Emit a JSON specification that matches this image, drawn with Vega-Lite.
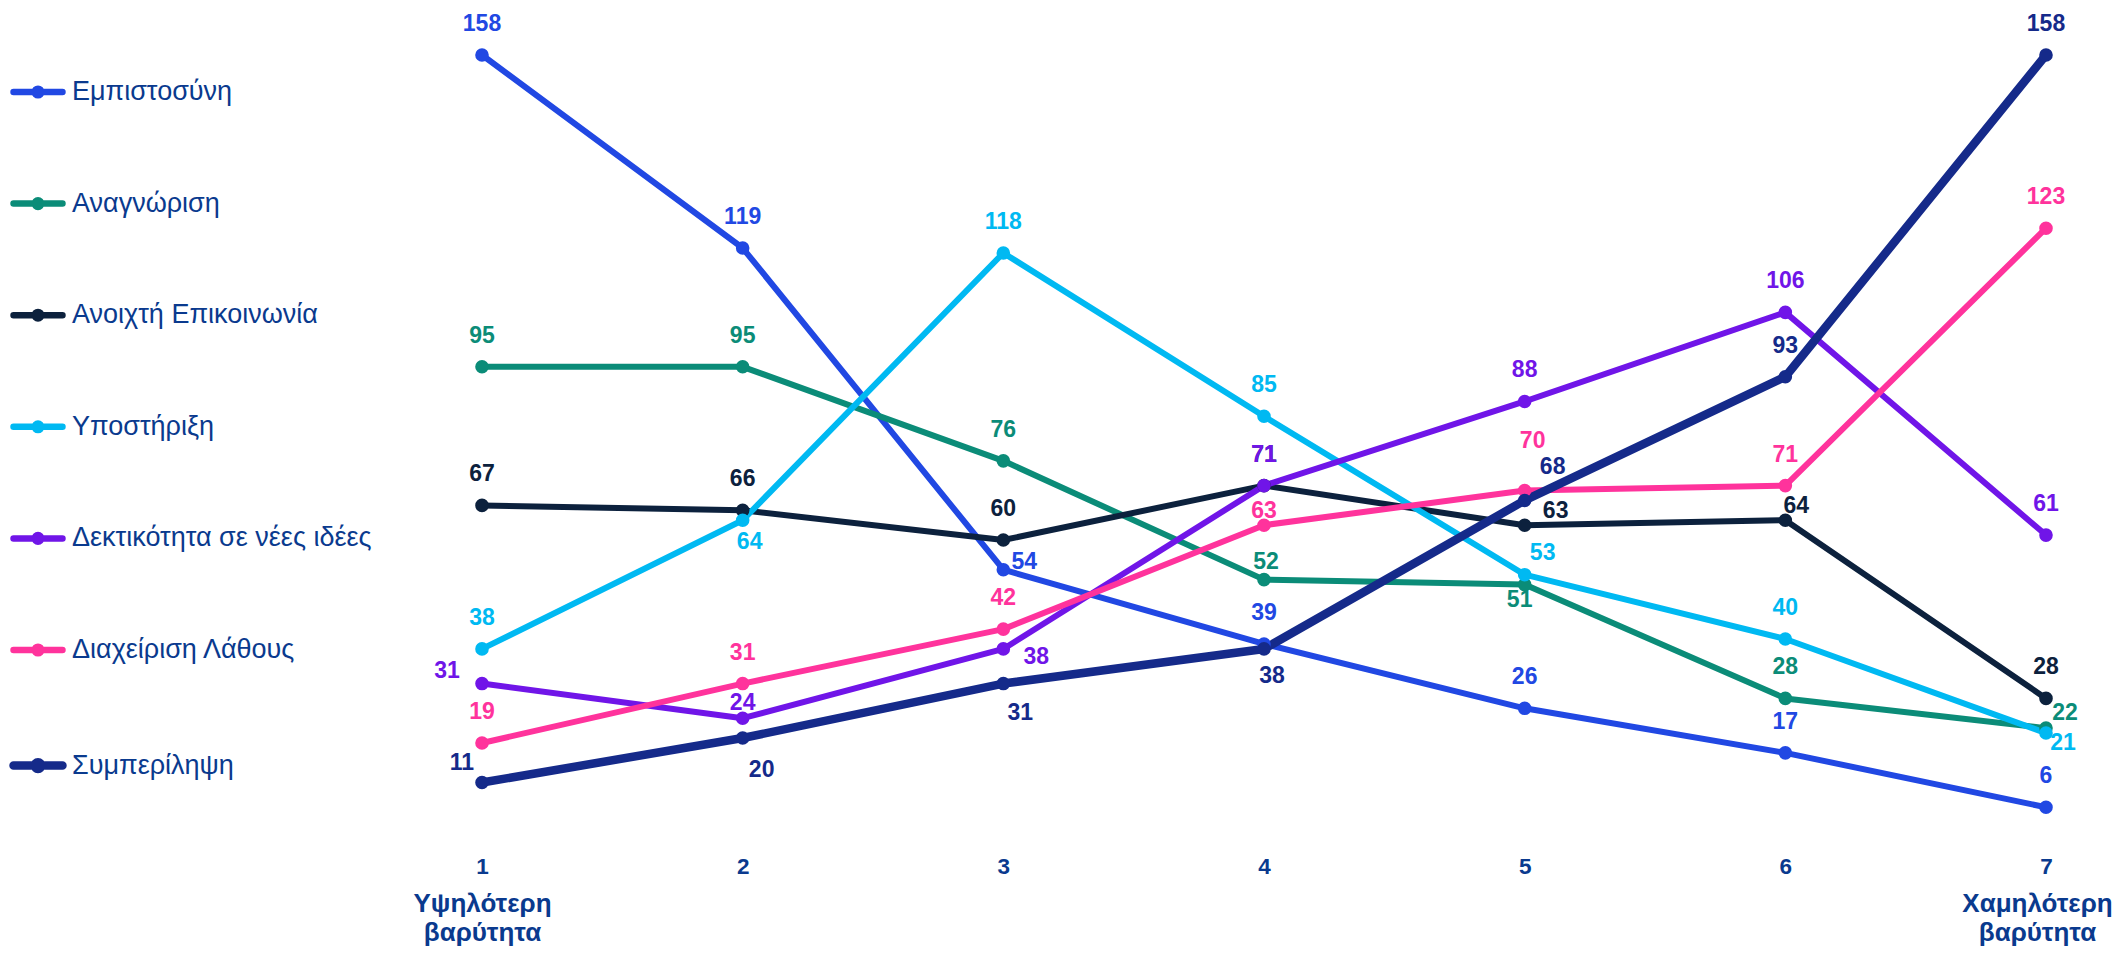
{
  "$schema": "https://vega.github.io/schema/vega-lite/v6.json",
  "width": 1564,
  "height": 782,
  "autosize": {"type": "none"},
  "padding": {"left": 482, "top": 55, "right": 70, "bottom": 118},
  "background": "white",
  "config": {"view": {"stroke": null}, "font": "Liberation Sans"},
  "data": {
    "values": [
      {"series": "Εμπιστοσύνη", "rank": 1, "value": 158},
      {"series": "Εμπιστοσύνη", "rank": 2, "value": 119},
      {"series": "Εμπιστοσύνη", "rank": 3, "value": 54},
      {"series": "Εμπιστοσύνη", "rank": 4, "value": 39},
      {"series": "Εμπιστοσύνη", "rank": 5, "value": 26},
      {"series": "Εμπιστοσύνη", "rank": 6, "value": 17},
      {"series": "Εμπιστοσύνη", "rank": 7, "value": 6},
      {"series": "Αναγνώριση", "rank": 1, "value": 95},
      {"series": "Αναγνώριση", "rank": 2, "value": 95},
      {"series": "Αναγνώριση", "rank": 3, "value": 76},
      {"series": "Αναγνώριση", "rank": 4, "value": 52},
      {"series": "Αναγνώριση", "rank": 5, "value": 51},
      {"series": "Αναγνώριση", "rank": 6, "value": 28},
      {"series": "Αναγνώριση", "rank": 7, "value": 22},
      {"series": "Ανοιχτή Επικοινωνία", "rank": 1, "value": 67},
      {"series": "Ανοιχτή Επικοινωνία", "rank": 2, "value": 66},
      {"series": "Ανοιχτή Επικοινωνία", "rank": 3, "value": 60},
      {"series": "Ανοιχτή Επικοινωνία", "rank": 4, "value": 71},
      {"series": "Ανοιχτή Επικοινωνία", "rank": 5, "value": 63},
      {"series": "Ανοιχτή Επικοινωνία", "rank": 6, "value": 64},
      {"series": "Ανοιχτή Επικοινωνία", "rank": 7, "value": 28},
      {"series": "Υποστήριξη", "rank": 1, "value": 38},
      {"series": "Υποστήριξη", "rank": 2, "value": 64},
      {"series": "Υποστήριξη", "rank": 3, "value": 118},
      {"series": "Υποστήριξη", "rank": 4, "value": 85},
      {"series": "Υποστήριξη", "rank": 5, "value": 53},
      {"series": "Υποστήριξη", "rank": 6, "value": 40},
      {"series": "Υποστήριξη", "rank": 7, "value": 21},
      {"series": "Δεκτικότητα σε νέες ιδέες", "rank": 1, "value": 31},
      {"series": "Δεκτικότητα σε νέες ιδέες", "rank": 2, "value": 24},
      {"series": "Δεκτικότητα σε νέες ιδέες", "rank": 3, "value": 38},
      {"series": "Δεκτικότητα σε νέες ιδέες", "rank": 4, "value": 71},
      {"series": "Δεκτικότητα σε νέες ιδέες", "rank": 5, "value": 88},
      {"series": "Δεκτικότητα σε νέες ιδέες", "rank": 6, "value": 106},
      {"series": "Δεκτικότητα σε νέες ιδέες", "rank": 7, "value": 61},
      {"series": "Διαχείριση Λάθους", "rank": 1, "value": 19},
      {"series": "Διαχείριση Λάθους", "rank": 2, "value": 31},
      {"series": "Διαχείριση Λάθους", "rank": 3, "value": 42},
      {"series": "Διαχείριση Λάθους", "rank": 4, "value": 63},
      {"series": "Διαχείριση Λάθους", "rank": 5, "value": 70},
      {"series": "Διαχείριση Λάθους", "rank": 6, "value": 71},
      {"series": "Διαχείριση Λάθους", "rank": 7, "value": 123},
      {"series": "Συμπερίληψη", "rank": 1, "value": 11},
      {"series": "Συμπερίληψη", "rank": 2, "value": 20},
      {"series": "Συμπερίληψη", "rank": 3, "value": 31},
      {"series": "Συμπερίληψη", "rank": 4, "value": 38},
      {"series": "Συμπερίληψη", "rank": 5, "value": 68},
      {"series": "Συμπερίληψη", "rank": 6, "value": 93},
      {"series": "Συμπερίληψη", "rank": 7, "value": 158}
    ]
  },
  "encoding": {
    "y": {
      "field": "value",
      "type": "quantitative",
      "scale": {"domain": [0, 158], "nice": false, "zero": true},
      "axis": null
    },
    "color": {
      "field": "series",
      "type": "nominal",
      "scale": {
        "domain": ["Εμπιστοσύνη", "Αναγνώριση", "Ανοιχτή Επικοινωνία", "Υποστήριξη", "Δεκτικότητα σε νέες ιδέες", "Διαχείριση Λάθους", "Συμπερίληψη"],
        "range": ["#2148E3", "#0B8C78", "#0C213D", "#00B9F2", "#7015E8", "#FF339C", "#152A8A"]
      },
      "legend": {
        "title": null,
        "orient": "none",
        "legendX": -441,
        "legendY": 23.5,
        "padding": 0,
        "rowPadding": 78.6,
        "labelFont": "Liberation Sans",
        "labelFontSize": 27,
        "labelColor": "#0A3A8E",
        "labelLimit": 500,
        "labelOffset": 4,
        "symbolSize": 3025,
        "symbolType": "M-1.49,0L0.29,0M-0.72,0A0.12,0.12 0 1,1 -0.48,0A0.12,0.12 0 1,1 -0.72,0Z",
        "encode": {
          "symbols": {
            "update": {
              "fill": {"scale": "color", "field": "value"},
              "stroke": {"scale": "color", "field": "value"},
              "strokeWidth": {"signal": "datum.value === 'Συμπερίληψη' ? 8.5 : 6.5"},
              "strokeCap": {"value": "round"},
              "size": {"value": 3025},
              "opacity": {"value": 1}
            }
          }
        }
      }
    }
  },
  "layer": [
    {
      "mark": {"type": "line", "strokeCap": "round", "strokeJoin": "round"},
      "encoding": {
        "x": {
          "field": "rank",
          "type": "ordinal",
          "scale": {"type": "point", "padding": 0},
          "axis": {
            "title": null,
            "orient": "bottom",
            "domain": false,
            "ticks": false,
            "grid": false,
            "labelAngle": 0,
            "labelFont": "Liberation Sans",
            "labelFontSize": 22.5,
            "labelFontWeight": "bold",
            "labelColor": "#0A3A8E",
            "labelPadding": 18
          }
        },
        "strokeWidth": {
          "condition": {"test": "datum.series === 'Συμπερίληψη'", "value": 8.5},
          "value": 6
        }
      }
    },
    {
      "mark": {"type": "point", "filled": true, "size": 185, "opacity": 1},
      "encoding": {
        "x": {"field": "rank", "type": "ordinal", "axis": null}
      }
    },
    {
      "mark": {
        "type": "text",
        "font": "Liberation Sans",
        "fontSize": 23,
        "fontWeight": "bold",
        "align": "center",
        "baseline": "middle",
        "dx": {"expr": "({'Δεκτικότητα σε νέες ιδέες1': -35, 'Συμπερίληψη1': -20, 'Συμπερίληψη2': 19, 'Υποστήριξη2': 7, 'Εμπιστοσύνη3': 21, 'Δεκτικότητα σε νέες ιδέες3': 33, 'Συμπερίληψη3': 17, 'Αναγνώριση4': 2, 'Συμπερίληψη4': 8, 'Διαχείριση Λάθους5': 8, 'Συμπερίληψη5': 28, 'Ανοιχτή Επικοινωνία5': 31, 'Υποστήριξη5': 18, 'Αναγνώριση5': -5, 'Ανοιχτή Επικοινωνία6': 11, 'Αναγνώριση7': 19, 'Υποστήριξη7': 17})[datum.series + datum.rank] || 0"},
        "dy": {"expr": "({'Δεκτικότητα σε νέες ιδέες1': -13, 'Συμπερίληψη1': -20, 'Δεκτικότητα σε νέες ιδέες2': -15, 'Συμπερίληψη2': 32, 'Υποστήριξη2': 22, 'Εμπιστοσύνη3': -8, 'Δεκτικότητα σε νέες ιδέες3': 8, 'Συμπερίληψη3': 29, 'Διαχείριση Λάθους4': -14, 'Αναγνώριση4': -18, 'Συμπερίληψη4': 27, 'Διαχείριση Λάθους5': -50, 'Συμπερίληψη5': -33, 'Ανοιχτή Επικοινωνία5': -14, 'Υποστήριξη5': -22, 'Αναγνώριση5': 15, 'Ανοιχτή Επικοινωνία6': -14, 'Αναγνώριση7': -15, 'Υποστήριξη7': 10})[datum.series + datum.rank] || -31"}
      },
      "encoding": {
        "x": {
          "field": "rank",
          "type": "ordinal",
          "axis": {
            "title": null,
            "orient": "bottom",
            "offset": 35,
            "domain": false,
            "ticks": false,
            "grid": false,
            "labelAngle": 0,
            "labelFont": "Liberation Sans",
            "labelFontSize": 26,
            "labelFontWeight": "bold",
            "labelColor": "#0A3A8E",
            "labelPadding": 18.5,
            "labelLineHeight": 29,
            "labelOffset": {"condition": {"test": "datum.value == 7", "value": -9}, "value": 0},
            "labelExpr": "datum.label == '1' ? ['Υψηλότερη', 'βαρύτητα'] : datum.label == '7' ? ['Χαμηλότερη', 'βαρύτητα'] : ''"
          }
        },
        "text": {"field": "value", "type": "quantitative"}
      }
    }
  ],
  "resolve": {"axis": {"x": "independent"}}
}
